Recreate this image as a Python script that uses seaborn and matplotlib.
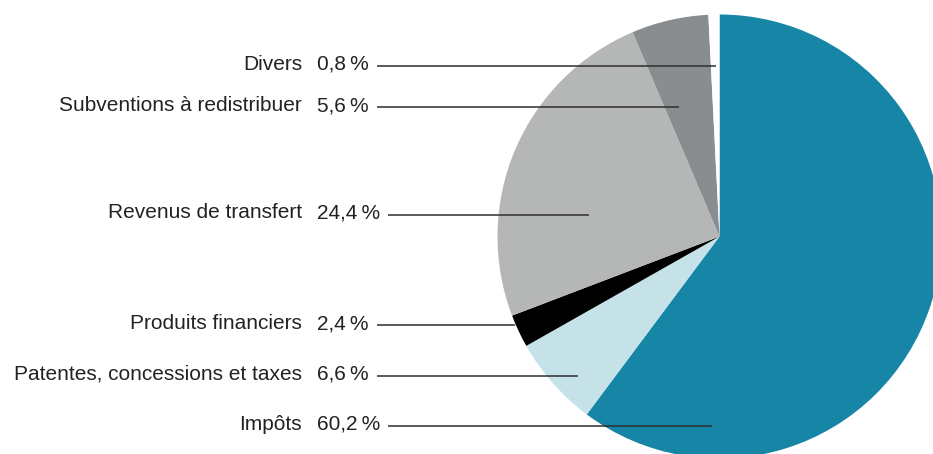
import matplotlib.pyplot as plt
import seaborn as sns

# =====================
# Data
# =====================
labels = ["Impôts", "Patentes, concessions et taxes", "Produits financiers",
          "Revenus de transfert", "Subventions à redistribuer", "Divers"]
shares = [60.2, 6.6, 2.4, 24.4, 5.6, 0.8]
colors = ["#1785a6", "#c4e2e8", "#000000", "#b5b6b6", "#8a8d90", "#ffffff"]

# =====================
# Layout (pixels, top-left origin)
# =====================
W, H = 933, 454
cx, cy, R = 719.5, 236.5, 222.0
row_y = [426, 376, 325, 214.5, 107, 66]      # leader line height per label
line_end = [712, 578, 515, 589, 679, 716]    # where each leader stops in the pie
label_right = 302
pct_left = 317
fsize = 15


def to_data(px, py):
    return (px - cx) / R, (cy - py) / R


sns.set_theme(style="white")
plt.rcParams['font.family'] = ['Liberation Sans', 'DejaVu Sans']

fig = plt.figure(figsize=(W / 100, H / 100), dpi=100)
ax = fig.add_axes([0, 0, 1, 1])

ax.pie(shares, colors=colors, startangle=90, counterclock=False,
       radius=1, center=(0, 0), wedgeprops=dict(linewidth=0))

x0, y0 = to_data(0, H)
x1, y1 = to_data(W, 0)
ax.set_xlim(x0, x1)
ax.set_ylim(y0, y1)
ax.set_aspect('equal')
ax.axis('off')

txt_color = "#222222"
pct_texts = []
for lab, val, y in zip(labels, shares, row_y):
    tx, ty = to_data(label_right, y + 4)
    ax.text(tx, ty, lab, ha='right', va='baseline', fontsize=fsize, color=txt_color)
    px_, _ = to_data(pct_left, y)
    pct = f"{val:.1f}".replace(".", ",") + "\u2009%"
    pct_texts.append(ax.text(px_, ty, pct, ha='left', va='baseline',
                             fontsize=fsize, color=txt_color))

fig.canvas.draw()
renderer = fig.canvas.get_renderer()
for t, y, xe in zip(pct_texts, row_y, line_end):
    bb = t.get_window_extent(renderer)
    start_px = bb.x1 + 8
    xa, ya = to_data(start_px, y)
    xb, _ = to_data(xe, y)
    ax.plot([xa, xb], [ya, ya], color="#2e2e2e", lw=1.1, solid_capstyle='butt')

plt.savefig("out.png", dpi=100)
